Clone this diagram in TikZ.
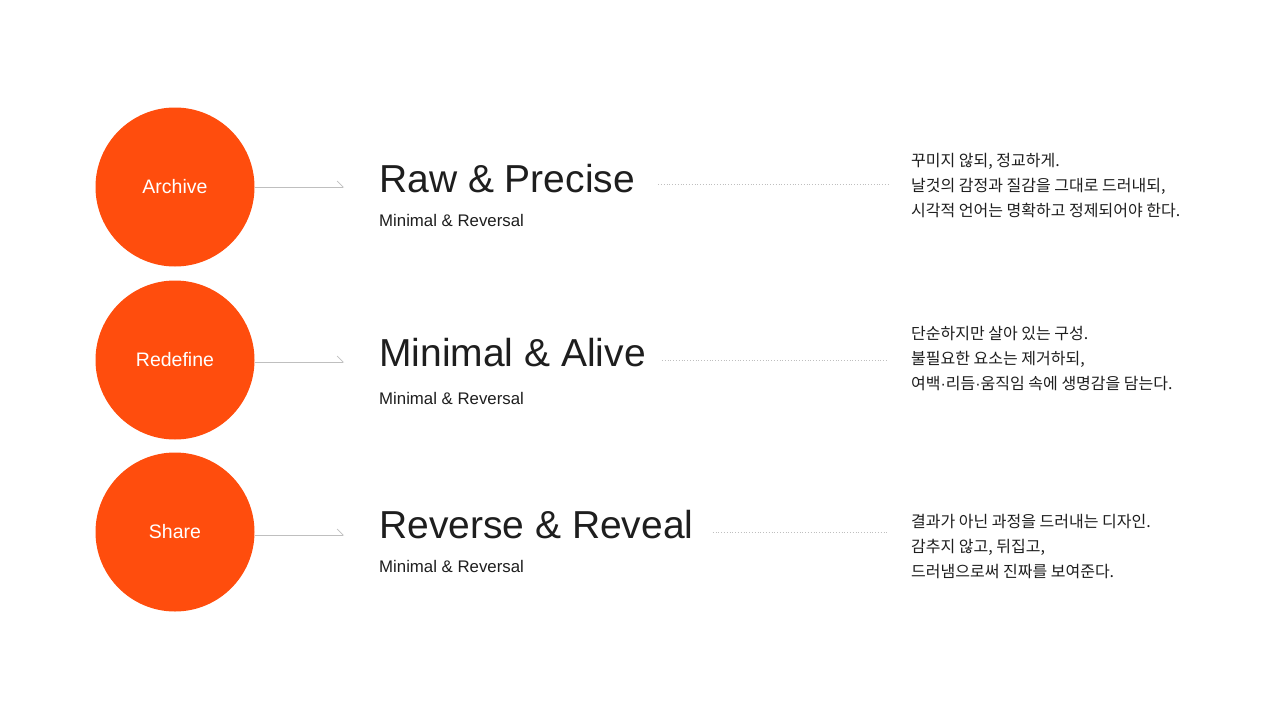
\documentclass[tikz,border=0pt]{standalone}
\usepackage{fontspec}
\setmainfont{Liberation Sans}
\newfontfamily\kr{Noto Sans CJK KR}
\newcommand{\mdot}{{\fontspec{Liberation Sans}·}}
\usetikzlibrary{positioning,arrows.meta}
\definecolor{brand}{HTML}{FF4D0D}
\definecolor{ink}{HTML}{1E1E1E}

\begin{document}
\begin{tikzpicture}[x=1pt, y=-1pt,
  stage/.style={circle, fill=brand, minimum size=159pt, inner sep=0pt, text=white, font=\fontsize{19.5}{22}\selectfont},
  title/.style={anchor=base west, inner sep=0pt, text=ink, font=\fontsize{39}{44}\selectfont},
  sub/.style={anchor=base west, inner sep=0pt, text=ink, font=\fontsize{16.8}{18}\selectfont},
  desc/.style={anchor=base west, inner sep=0pt, text=ink, align=left, font=\kr\fontsize{16}{25}\selectfont},
  link/.style={draw=gray!50, line width=0.7pt, -{Straight Barb[harpoon, length=6pt, width=12pt]}},
  guide/.style={draw=gray!50, line width=0.8pt, dotted}]
\useasboundingbox[fill=white] (0,0) rectangle (1280,720);

\node[stage] (c1) at (175,187) {Archive};
\node[stage] (c2) at (175,360) {Redefine};
\node[stage] (c3) at (175,532) {Share};

\coordinate (a1) at (344,187);
\coordinate (a2) at (344,362);
\coordinate (a3) at (344,535);

\node[title] (t1) at (379,192) {Raw \& Precise};
\node[title] (t2) at (379,366) {Minimal \& Alive};
\node[title] (t3) at (379,538) {Reverse \& Reveal};

\node[sub] (s1) at (379,226) {Minimal \& Reversal};
\node[sub] (s2) at (379,404) {Minimal \& Reversal};
\node[sub] (s3) at (379,572) {Minimal \& Reversal};

\node[desc] (d1) at (911,216) {꾸미지 않되, 정교하게.\\날것의 감정과 질감을 그대로 드러내되,\\시각적 언어는 명확하고 정제되어야 한다.};
\node[desc] (d2) at (911,389) {단순하지만 살아 있는 구성.\\불필요한 요소는 제거하되,\\여백\mdot 리듬\mdot 움직임 속에 생명감을 담는다.};
\node[desc] (d3) at (911,577) {결과가 아닌 과정을 드러내는 디자인.\\감추지 않고, 뒤집고,\\드러냄으로써 진짜를 보여준다.};

\coordinate (e1) at (888,184);
\coordinate (e2) at (888,360);
\coordinate (e3) at (888,532);

\draw[link] (c1.east |- a1) -- (a1);
\draw[link] (c2.east |- a2) -- (a2);
\draw[link] (c3.east |- a3) -- (a3);

\draw[guide] ([xshift=23pt]t1.east |- e1) -- (e1);
\draw[guide] ([xshift=16pt]t2.east |- e2) -- (e2);
\draw[guide] ([xshift=19pt]t3.east |- e3) -- (e3);
\end{tikzpicture}
\end{document}
